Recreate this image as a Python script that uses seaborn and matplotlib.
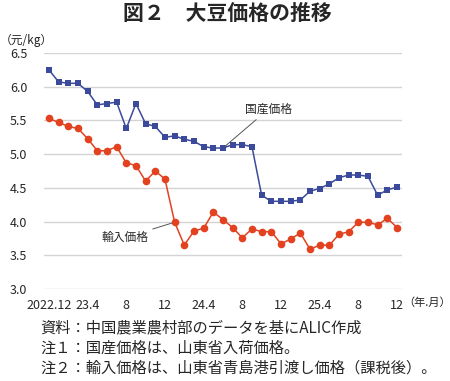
import numpy as np
import pandas as pd
import seaborn as sns
import matplotlib.pyplot as plt

# 大豆価格 (元/kg), monthly 2022.12 - 2025.12
domestic = [6.25, 6.07, 6.05, 6.05, 5.93, 5.73, 5.75, 5.77, 5.38, 5.75,
            5.45, 5.41, 5.25, 5.27, 5.22, 5.19, 5.11, 5.09, 5.09, 5.14,
            5.14, 5.11, 4.39, 4.30, 4.30, 4.30, 4.32, 4.45, 4.49, 4.56,
            4.65, 4.69, 4.69, 4.67, 4.39, 4.47, 4.51]
imported = [5.53, 5.47, 5.41, 5.38, 5.23, 5.05, 5.05, 5.11, 4.87, 4.83,
            4.60, 4.75, 4.63, 3.99, 3.65, 3.86, 3.90, 4.14, 4.03, 3.91,
            3.76, 3.89, 3.85, 3.85, 3.67, 3.74, 3.83, 3.59, 3.65, 3.65,
            3.81, 3.85, 3.99, 3.99, 3.95, 4.05, 3.91]
tick_labels = ['2022.12', '23.4', '8', '12', '24.4', '8', '12', '25.4', '8', '12']
yticks = [3.0, 3.5, 4.0, 4.5, 5.0, 5.5, 6.0, 6.5]

sns.set_theme(style="white")
plt.rcParams['font.family'] = ['Noto Sans CJK JP', 'DejaVu Sans']

df = pd.DataFrame({'month': np.arange(len(domestic)),
                   'domestic': domestic, 'imported': imported})

fig = plt.figure(figsize=(4.5, 3.81), dpi=100)
ax = fig.add_axes([0.098, 0.2415, 0.795, 0.6195])

blue = '#3b4a9a'
red = '#e2421f'
sns.lineplot(data=df, x='month', y='domestic', ax=ax, color=blue, lw=1.1,
             marker='s', markersize=5, markeredgewidth=0, zorder=3)
sns.lineplot(data=df, x='month', y='imported', ax=ax, color=red, lw=1.1,
             marker='o', markersize=5.5, markeredgewidth=0, zorder=3)

ax.set_xlim(-0.5, len(domestic) - 0.5)
ax.set_ylim(3.0, 6.5)
ax.set_yticks(yticks)
ax.set_yticklabels([f'{v:.1f}' for v in yticks], fontsize=9)
ax.set_xticks(np.arange(0, len(domestic), 4))
ax.set_xticklabels(tick_labels, fontsize=9)
ax.tick_params(axis='y', length=0, pad=12)
ax.tick_params(axis='x', length=0, pad=7)
ax.grid(axis='y', color='#d4d4d4', lw=1)
ax.set_axisbelow(True)
for s in ax.spines.values():
    s.set_visible(False)
ax.set_xlabel('')
ax.set_ylabel('')

# labels with leader lines
ax.annotate('国産価格', xy=(18, domestic[18]), xytext=(20.3, 5.67),
            fontsize=8.5, va='center', ha='left',
            arrowprops=dict(arrowstyle='-', color='#555555', lw=0.7,
                            shrinkA=1, shrinkB=2))
ax.annotate('輸入価格', xy=(13, imported[13]), xytext=(5.4, 3.76),
            fontsize=8.5, va='center', ha='left',
            arrowprops=dict(arrowstyle='-', color='#555555', lw=0.7,
                            shrinkA=1, shrinkB=2))

fig.text(0.505, 0.965, '図２　大豆価格の推移', fontsize=15, fontweight='bold',
         ha='center', va='center')
fig.text(0.0, 0.893, '（元/kg）', fontsize=8.5, ha='left', va='center')
fig.text(0.897, 0.205, '（年.月）', fontsize=8, ha='left', va='center')

notes = ['資料：中国農業農村部のデータを基にALIC作成',
         '注１：国産価格は、山東省入荷価格。',
         '注２：輸入価格は、山東省青島港引渡し価格（課税後）。']
for i, t in enumerate(notes):
    fig.text(0.089, 0.14 - i * 0.053, t, fontsize=11, ha='left', va='center')

fig.savefig('out.png', dpi=100)
